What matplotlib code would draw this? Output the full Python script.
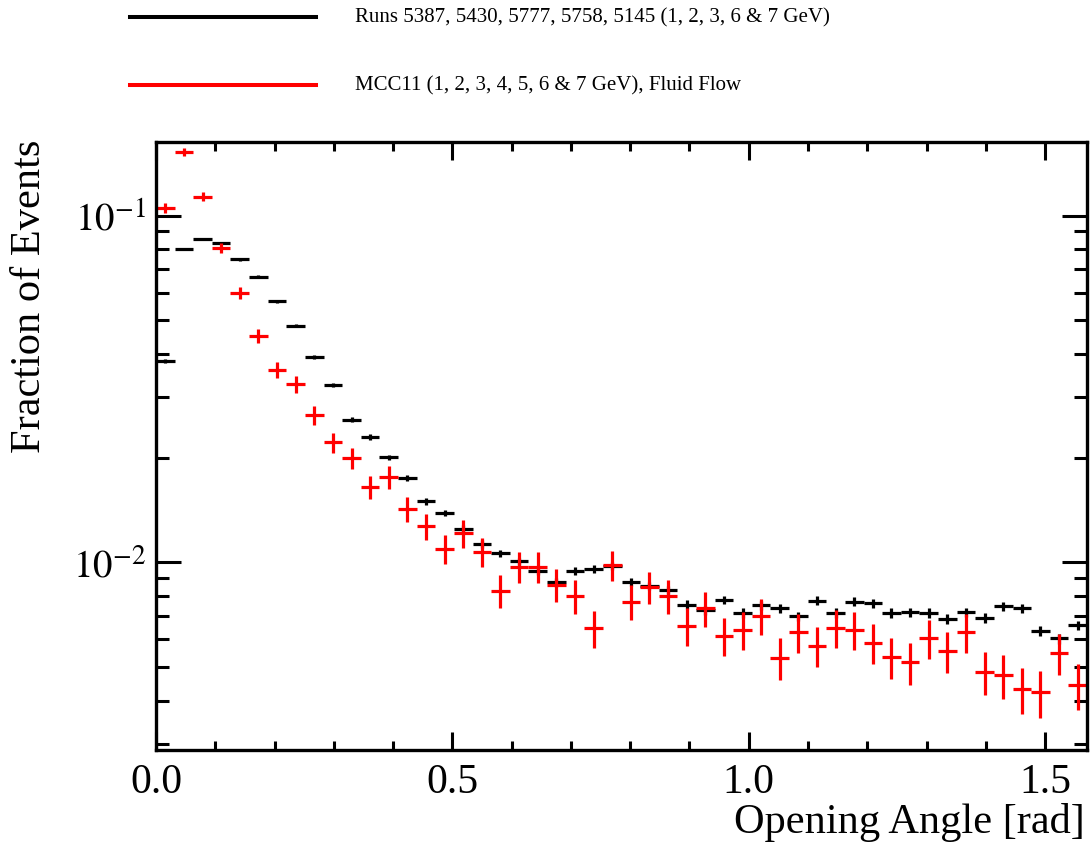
import numpy as np
import matplotlib
matplotlib.use("Agg")
import matplotlib.pyplot as plt
from matplotlib.ticker import MultipleLocator, LogLocator, FixedLocator, FixedFormatter, NullFormatter
from matplotlib.lines import Line2D

plt.rcParams['font.family'] = ['Liberation Serif', 'DejaVu Serif']
plt.rcParams['mathtext.fontset'] = 'stix'

# 50 bins from 0 to pi/2
n_bins = 50
x_max = np.pi / 2

# fraction of events per bin
data_frac = [0.0380, 0.0801, 0.0857, 0.0833, 0.0748, 0.0667, 0.0566, 0.0482, 0.0391, 0.0325,
             0.0258, 0.0230, 0.0201, 0.0175, 0.0150, 0.0139, 0.01253, 0.01132, 0.01062, 0.01007,
             0.00944, 0.00876, 0.00946, 0.00957, 0.00977, 0.00880, 0.00857, 0.00834, 0.00755, 0.00729,
             0.00780, 0.00715, 0.00753, 0.00738, 0.00700, 0.00776, 0.00715, 0.00771, 0.00762, 0.00715,
             0.00718, 0.00715, 0.00687, 0.00718, 0.00692, 0.00747, 0.00738, 0.00635, 0.00604, 0.00659]

mc_frac = [0.1052, 0.1528, 0.1135, 0.0807, 0.0598, 0.0451, 0.0360, 0.0327, 0.0266, 0.0222,
           0.0200, 0.0165, 0.0176, 0.01426, 0.0127, 0.01094, 0.01213, 0.01074, 0.00828, 0.00973,
           0.00971, 0.00863, 0.00798, 0.00646, 0.00983, 0.00771, 0.00849, 0.00802, 0.00656, 0.00738,
           0.00615, 0.00638, 0.00700, 0.00532, 0.00629, 0.00576, 0.00647, 0.00638, 0.00586, 0.00534,
           0.00515, 0.00605, 0.00556, 0.00629, 0.00484, 0.00473, 0.00431, 0.00422, 0.00547, 0.00443]

# approximate total entries (sets the Poisson error bars)
n_data = 150000
n_mc = 10000

data_label = "Runs 5387, 5430, 5777, 5758, 5145 (1, 2, 3, 6 & 7 GeV)"
mc_label = "MCC11 (1, 2, 3, 4, 5, 6 & 7 GeV), Fluid Flow"

edges = np.linspace(0, x_max, n_bins + 1)
centers = 0.5 * (edges[:-1] + edges[1:])
half = 0.5 * (edges[1] - edges[0])

data_frac = np.array(data_frac)
mc_frac = np.array(mc_frac)
data_err = np.sqrt(data_frac * n_data) / n_data
mc_err = np.sqrt(mc_frac * n_mc) / n_mc

fig = plt.figure(figsize=(10.91, 8.45), dpi=100)
ax = fig.add_axes([156 / 1091, 1 - 751 / 845, (1087 - 156) / 1091, (751 - 143) / 845])

ax.errorbar(centers, data_frac, xerr=half, yerr=data_err, fmt='none',
            ecolor='black', elinewidth=2.3)
ax.errorbar(centers, mc_frac, xerr=half, yerr=mc_err, fmt='none',
            ecolor='red', elinewidth=2.3)

ax.set_yscale('log')
ax.set_xlim(0, x_max)
ax.set_ylim(0.00288, 0.163)

ax.xaxis.set_major_locator(FixedLocator([0.0, 0.5, 1.0, 1.5]))
ax.xaxis.set_major_formatter(FixedFormatter(['0.0', '0.5', '1.0', '1.5']))
ax.xaxis.set_minor_locator(MultipleLocator(0.1))

ax.yaxis.set_major_locator(FixedLocator([0.01, 0.1]))
ax.yaxis.set_major_formatter(FixedFormatter([r'$10^{-2}$', r'$10^{-1}$']))
ax.yaxis.set_minor_locator(LogLocator(base=10, subs=np.arange(2, 10), numticks=20))
ax.yaxis.set_minor_formatter(NullFormatter())

for s in ax.spines.values():
    s.set_linewidth(2.4)

ax.tick_params(which='both', direction='in', top=True, right=True, width=2.2)
ax.tick_params(axis='x', which='major', length=13, labelsize=30, pad=9)
ax.tick_params(axis='x', which='minor', length=6.5)
ax.tick_params(axis='y', which='major', length=18, labelsize=28, pad=7)
ax.tick_params(axis='y', which='minor', length=9.5)

fig.text(1085 / 1091, 1 - 833 / 845, "Opening Angle [rad]", fontsize=30.5,
         ha='right', va='baseline')
fig.text(30 / 1091, 1 - 140 / 845, "Fraction of Events", fontsize=30.5,
         rotation=90, ha='center', va='top')

# legend drawn above the frame, ROOT style
for yy, col, lab in [(18, 'black', data_label), (86, 'red', mc_label)]:
    fy = 1 - yy / 845
    fig.add_artist(Line2D([130 / 1091, 316 / 1091], [fy, fy], color=col, lw=2.9,
                          transform=fig.transFigure))
    fig.text(355 / 1091, fy, lab, fontsize=15, ha='left', va='center')

fig.savefig('out.png', dpi=100)
